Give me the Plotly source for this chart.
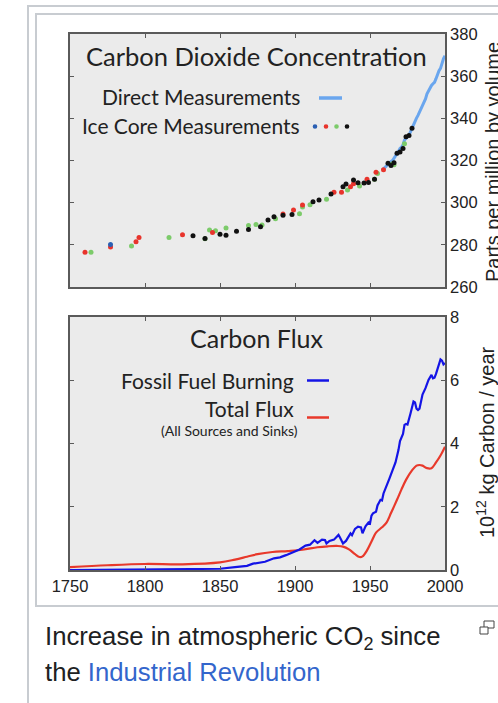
import plotly.graph_objects as go

W, H = 498, 703

# ---------------- data ----------------
direct_years = [1958, 1959, 1960, 1961, 1962, 1963, 1964, 1965, 1966, 1967, 1968, 1969, 1970,
                1971, 1972, 1973, 1974, 1975, 1976, 1977, 1978, 1979, 1980, 1981, 1982, 1983,
                1984, 1985, 1986, 1987, 1988, 1989, 1990, 1991, 1992, 1993, 1994, 1995, 1996,
                1997, 1998, 1999, 2000]
direct_ppm = [315.3, 316.0, 316.9, 317.6, 318.5, 319.0, 319.6, 320.0, 321.4, 322.2, 323.0, 324.6,
              325.7, 326.3, 327.5, 329.7, 330.2, 331.1, 332.0, 333.8, 335.4, 336.8, 338.7, 340.1,
              341.4, 343.0, 344.6, 346.0, 347.4, 349.2, 351.6, 353.1, 354.4, 355.6, 356.4, 357.1,
              358.8, 360.8, 362.6, 363.7, 366.7, 368.4, 369.7]

ice_blue_years = [1777]
ice_blue_ppm = [280.2]

ice_red_years = [1760, 1777, 1794, 1796, 1825, 1845, 1892, 1899, 1905, 1926, 1931, 1937,
                 1939, 1948, 1954, 1959]
ice_red_ppm = [276.5, 279.0, 281.5, 283.5, 284.8, 285.9, 294.6, 296.5, 298.9, 304.9, 305.0,
               307.5, 309.0, 311.1, 314.4, 315.6]

ice_green_years = [1764, 1791, 1816, 1840, 1843, 1847, 1854, 1869, 1874, 1878, 1887, 1903,
                   1905, 1910, 1921, 1935, 1943, 1953, 1955, 1965, 1966, 1973]
ice_green_ppm = [276.5, 279.4, 283.5, 282.9, 287.0, 286.7, 288.0, 289.2, 289.6, 289.4, 292.4,
                 294.8, 297.9, 299.0, 301.6, 306.0, 307.9, 311.1, 313.8, 318.4, 318.0, 328.0]

ice_black_years = [1832, 1840, 1850, 1854, 1861, 1869, 1877, 1882, 1886, 1892, 1898, 1912,
                   1916, 1924, 1932, 1934, 1939, 1942, 1946, 1949, 1953, 1962, 1964, 1966,
                   1968, 1970, 1972, 1974, 1976, 1978]
ice_black_ppm = [284.3, 283.0, 285.0, 284.6, 286.4, 287.3, 288.6, 291.8, 293.3, 294.0, 294.4,
                 300.4, 301.3, 304.1, 307.6, 308.8, 310.7, 309.5, 309.3, 309.6, 311.1, 318.7,
                 317.6, 318.9, 323.4, 324.0, 325.7, 331.3, 331.8, 335.3]

fossil_years = [1750, 1800, 1830, 1850, 1860, 1868, 1872, 1880, 1886, 1890, 1894, 1900, 1903,
                1907, 1910, 1913, 1915, 1918, 1920, 1921, 1923, 1926, 1929, 1930, 1932, 1934,
                1937, 1938, 1940, 1942, 1944, 1945, 1947, 1949, 1950, 1951, 1952, 1954, 1955,
                1957, 1958, 1959, 1961, 1963, 1965, 1967, 1969, 1970, 1972, 1973, 1974, 1975,
                1977, 1979, 1980, 1981, 1982, 1983, 1985, 1987, 1989, 1990, 1991, 1992, 1993,
                1994, 1995, 1996, 1997, 1998, 1999, 2000]
fossil_flux = [0.0, 0.01, 0.02, 0.04, 0.09, 0.13, 0.2, 0.26, 0.37, 0.4, 0.47, 0.6, 0.65, 0.77,
               0.8, 0.94, 0.86, 0.96, 0.95, 0.84, 0.92, 0.96, 1.11, 1.03, 0.84, 0.92, 1.16, 1.1,
               1.3, 1.37, 1.35, 1.16, 1.38, 1.5, 1.47, 1.72, 1.79, 1.84, 2.04, 2.22, 2.2, 2.42,
               2.64, 2.9, 3.15, 3.4, 3.8, 4.08, 4.3, 4.59, 4.62, 4.6, 4.95, 5.33, 5.3, 5.1,
               5.06, 5.1, 5.55, 5.75, 6.01, 6.1, 6.17, 6.06, 6.08, 6.2, 6.35, 6.5, 6.66, 6.62,
               6.5, 6.54]

total_years = [1750, 1775, 1800, 1825, 1850, 1860, 1868, 1875, 1885, 1895, 1905, 1915, 1922,
               1928, 1932, 1936, 1940, 1943, 1945, 1948, 1951, 1954, 1958, 1961, 1964, 1968,
               1971, 1974, 1978, 1981, 1983, 1985, 1988, 1991, 1994, 1997, 2000]
total_flux = [0.09, 0.15, 0.19, 0.18, 0.24, 0.33, 0.42, 0.5, 0.57, 0.6, 0.64, 0.72, 0.75, 0.76,
              0.74, 0.65, 0.5, 0.41, 0.43, 0.62, 0.9, 1.18, 1.35, 1.5, 1.8, 2.22, 2.55, 2.85,
              3.15, 3.3, 3.32, 3.3, 3.22, 3.22, 3.4, 3.62, 3.9]

x_ticks = [1750, 1800, 1850, 1900, 1950, 2000]
co2_ticks = [260, 280, 300, 320, 340, 360, 380]
flux_ticks = [0, 2, 4, 6, 8]

# ---------------- styles ----------------
BLUE_LIGHT = "#6aa6ee"
RED = "#e8342c"
GREEN = "#7ccb6a"
BLACK = "#111111"
DBLUE = "#2b5fb3"
FBLUE = "#1414e6"
FRED = "#e8392b"
AXIS = "#5a5a5a"
TXT = "#222222"
INNER_FONT = "Lato"
TICK_FONT = "Liberation Sans"


def px(x):
    return x / W


def py(y):
    return 1 - y / H


fig = go.Figure()

# top panel
fig.add_trace(go.Scatter(x=direct_years, y=direct_ppm, mode="lines",
                         line=dict(color=BLUE_LIGHT, width=3), xaxis="x", yaxis="y"))
for yrs, vals, col in [(ice_green_years, ice_green_ppm, GREEN),
                       (ice_red_years, ice_red_ppm, RED),
                       (ice_blue_years, ice_blue_ppm, DBLUE),
                       (ice_black_years, ice_black_ppm, BLACK)]:
    fig.add_trace(go.Scatter(x=yrs, y=vals, mode="markers",
                             marker=dict(color=col, size=5, line=dict(width=0)),
                             xaxis="x", yaxis="y"))

# bottom panel
fig.add_trace(go.Scatter(x=total_years, y=total_flux, mode="lines", line_shape="spline",
                         line=dict(color=FRED, width=2.2), xaxis="x2", yaxis="y2"))
fig.add_trace(go.Scatter(x=fossil_years, y=fossil_flux, mode="lines",
                         line=dict(color=FBLUE, width=2.2), xaxis="x2", yaxis="y2"))

axis_common = dict(showline=True, linecolor=AXIS, linewidth=1.6, mirror="ticks",
                   ticks="inside", ticklen=4, tickcolor=AXIS, tickwidth=1.2,
                   showgrid=False, zeroline=False, fixedrange=True)

tickfont = dict(family=TICK_FONT, size=16.5, color=TXT)
x_dom = [px(70), px(445)]
fig.update_layout(
    width=W, height=H,
    margin=dict(l=0, r=0, t=0, b=0),
    paper_bgcolor="white",
    plot_bgcolor="#ebebeb",
    showlegend=False,
    xaxis=dict(domain=x_dom, range=[1750, 2000], tickvals=x_ticks, showticklabels=False,
               anchor="y", **axis_common),
    yaxis=dict(domain=[py(287), py(34)], range=[260, 380], tickvals=co2_ticks, side="right",
               anchor="x", tickfont=tickfont, automargin=False, **axis_common),
    xaxis2=dict(domain=x_dom, range=[1750, 2000], tickvals=x_ticks, anchor="y2",
                tickfont=tickfont, automargin=False, **axis_common),
    yaxis2=dict(domain=[py(570), py(317)], range=[0, 8], tickvals=flux_ticks, side="right",
                anchor="x2", tickfont=tickfont, automargin=False, **axis_common),
)

shapes = []
# thumbnail frames
shapes.append(dict(type="rect", xref="paper", yref="paper", x0=px(28), x1=px(520),
                   y0=py(720), y1=py(6), line=dict(color="#c8ccd1", width=2), layer="below"))
shapes.append(dict(type="rect", xref="paper", yref="paper", x0=px(36), x1=px(520),
                   y0=py(606), y1=py(14), line=dict(color="#c8ccd1", width=2), layer="below"))
# legend glyphs (top)
shapes.append(dict(type="line", xref="paper", yref="paper", x0=px(319), x1=px(342),
                   y0=py(98), y1=py(98), line=dict(color=BLUE_LIGHT, width=3.5)))
for cx, col in [(315, DBLUE), (326, RED), (336.5, GREEN), (347, BLACK)]:
    shapes.append(dict(type="circle", xref="paper", yref="paper", x0=px(cx - 2.3),
                       x1=px(cx + 2.3), y0=py(126.5 + 2.3), y1=py(126.5 - 2.3),
                       fillcolor=col, line=dict(width=0)))
# legend glyphs (bottom)
shapes.append(dict(type="line", xref="paper", yref="paper", x0=px(307), x1=px(329),
                   y0=py(380.5), y1=py(380.5), line=dict(color=FBLUE, width=2.5)))
shapes.append(dict(type="line", xref="paper", yref="paper", x0=px(307), x1=px(329),
                   y0=py(417.5), y1=py(417.5), line=dict(color=FRED, width=2.5)))
# expand icon
shapes.append(dict(type="rect", xref="paper", yref="paper", x0=px(484), x1=px(494),
                   y0=py(628), y1=py(621), line=dict(color="#444", width=1)))
shapes.append(dict(type="rect", xref="paper", yref="paper", x0=px(480), x1=px(488),
                   y0=py(634), y1=py(627), line=dict(color="#444", width=1), fillcolor="white"))
fig.update_layout(shapes=shapes)


def ann(text, x, y, size, xanchor="center", color=TXT, family=INNER_FONT, angle=0):
    fig.add_annotation(text=text, x=px(x), y=py(y), xref="paper", yref="paper",
                       xanchor=xanchor, yanchor="middle", showarrow=False, textangle=angle,
                       font=dict(family=family, size=size, color=color))


ann("Carbon Dioxide Concentration", 256.5, 55.5, 25.5)
ann("Direct Measurements", 302, 97, 21, xanchor="right")
ann("Ice Core Measurements", 302, 125, 21, xanchor="right")
ann("Carbon Flux", 257, 337.5, 25)
ann("Fossil Fuel Burning", 296, 380, 21, xanchor="right")
ann("Total Flux", 296, 408.5, 21, xanchor="right")
ann("(All Sources and Sinks)", 300, 430.5, 14, xanchor="right")

ann("Parts per million by volume", 493, 162, 20, family=TICK_FONT, angle=-90)
ann("10<sup>12</sup> kg Carbon / year", 486, 442, 20, family=TICK_FONT, angle=-90)

ann("Increase in atmospheric CO<sub>2</sub> since", 43, 638, 25.7, xanchor="left",
    color="#202122", family=TICK_FONT)
ann("the <span style='color:#3366cc'>Industrial Revolution</span>", 43, 671.5, 25.7,
    xanchor="left", color="#202122", family=TICK_FONT)

fig.write_html("out.html")
